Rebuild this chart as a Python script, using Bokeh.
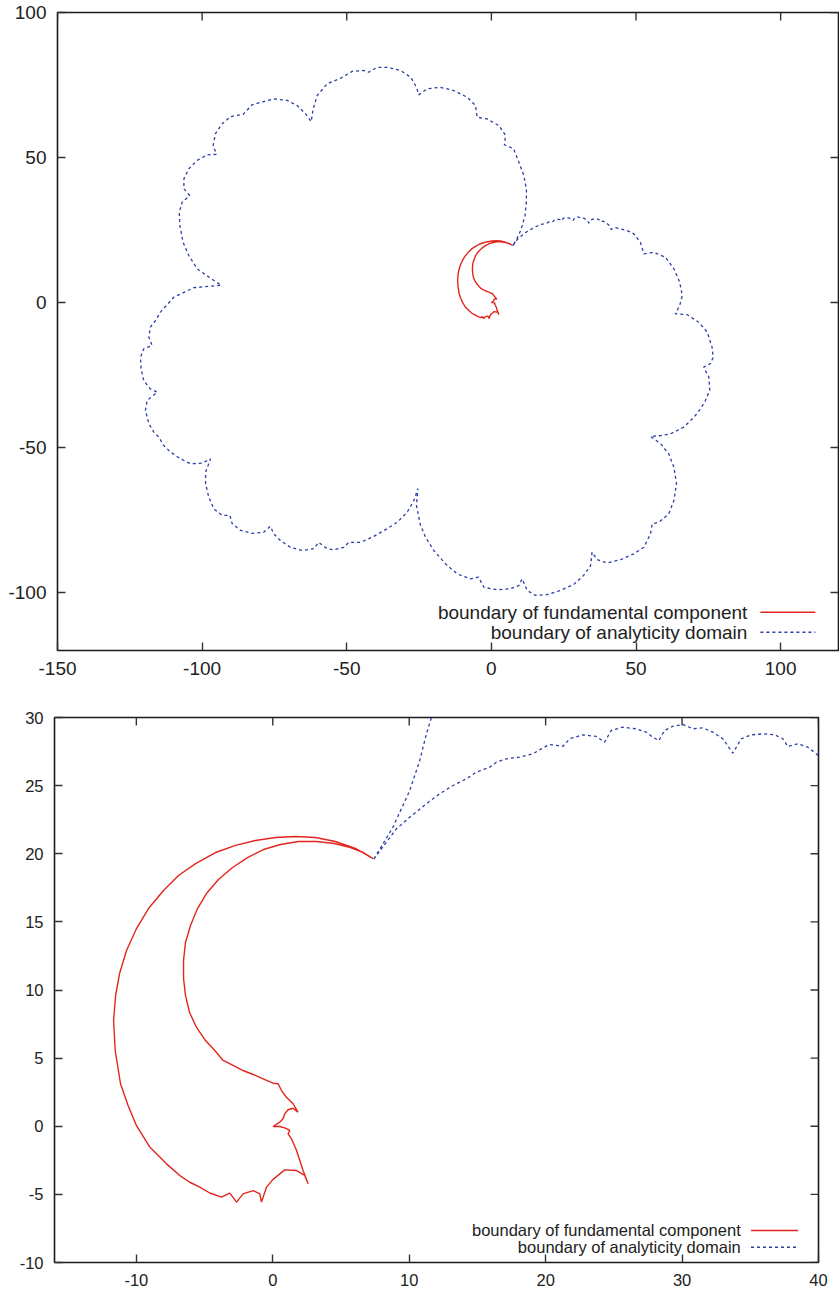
from bokeh.plotting import figure
from bokeh.models import Range1d, FixedTicker, Label, Arrow
from bokeh.embed import file_html
from bokeh.resources import INLINE

# ---------------- data ----------------
# boundary of analyticity domain (closed curve, starts/ends at the cusp)
dom_x = [7.4, 9.06, 10.04, 11.26, 12.23, 13.21, 14.19, 14.92, 15.90, 16.39, 17.12, 18.10, 19.07, 19.68,
         20.29, 21.27, 21.76, 22.73, 23.71, 24.32, 24.81, 25.66, 26.64, 27.38, 27.86, 28.30, 28.72, 29.33,
         30.06, 30.79, 31.52, 32.26, 32.99, 33.72, 34.34, 35.07, 35.92, 36.78, 37.39, 37.75, 38.48, 39.22,
         39.83, 40.8, 41.4, 43.0, 44.6, 47.0, 49.2, 51.5, 52.7, 56.1, 60.2, 63.1, 65.1, 66.0, 65.1, 63.6,
         67.7, 71.7, 74.6, 76.3, 76.7, 75.7, 73.4, 75.2, 75.5, 74.0, 72.3, 70.0, 66.5, 61.9, 58.5, 55.0,
         58.5, 61.3, 63.1, 64.0, 63.1, 61.3, 57.9, 55.6, 55.0, 52.7, 49.2, 44.6, 40.0, 36.6, 34.8,
         34.3, 31.9, 28.5, 23.9, 19.3, 15.2, 12.4, 10.6, 9.5, 6.6, 2.0, -2.6, -4.4, -7.2, -11.8, -15.9,
         -19.9, -22.8, -24.6, -25.9, -25.4, -26.8, -29.1, -32.6, -36.0, -40.7, -45.3, -49.3, -51.0, -54.5,
         -56.8, -59.7, -61.4, -65.4, -69.5, -72.9, -75.2, -76.4, -78.7, -82.7, -86.7, -89.6, -90.4, -93.1,
         -96.0, -97.7, -98.8, -98.8, -97.1, -100.0, -104.0, -107.5, -110.9, -113.3, -115.0, -116.7, -118.4,
         -119.6, -119.0, -115.5, -117.9, -120.2, -121.1, -121.3, -120.2, -117.3, -118.4, -117.9, -116.1,
         -114.4, -109.8, -102.9, -97.1, -93.4, -97.1, -101.7, -104.6, -106.6, -107.7, -107.9, -106.9,
         -104.3, -106.3, -106.3, -104.6, -101.7, -98.3, -95.0, -96.2, -95.4, -93.1, -90.2, -85.8, -82.7,
         -78.7, -75.2, -70.6, -67.1, -64.3, -62.3, -61.6, -60.2, -56.8, -52.2, -48.1, -44.1, -42.4, -39.5,
         -36.0, -31.4, -27.9, -25.9, -25.1, -22.2, -17.6, -13.0, -8.4, -5.5, -4.9, -1.5, 2.6, 4.9, 4.5,
         7.7, 9.5, 11.2, 12.1, 12.1, 11.63, 11.26, 10.77, 10.04, 8.81, 7.4]
dom_y = [19.6, 21.83, 22.68, 23.67, 24.40, 25.01, 25.50, 25.99, 26.35, 26.72, 26.97, 27.09, 27.34, 27.70,
         28.02, 27.89, 28.44, 28.73, 28.61, 28.19, 29.05, 29.29, 29.17, 28.92, 28.55, 28.31, 29.05, 29.36,
         29.49, 29.17, 29.24, 28.92, 28.44, 27.38, 28.44, 28.73, 28.80, 28.73, 28.44, 27.87, 28.07, 27.82,
         27.34, 26.5, 25.2, 25.8, 25.4, 24.8, 23.7, 20.8, 16.8, 17.3, 15.6, 11.6, 7.0, 2.4, -1.0, -3.9,
         -4.2, -6.8, -10.2, -15.4, -18.9, -21.1, -22.3, -25.8, -30.3, -33.8, -36.7, -39.6, -43.0, -45.3,
         -45.9, -46.2, -48.7, -52.2, -56.8, -62.5, -68.3, -72.9, -75.8, -76.3, -79.8, -84.4, -86.7, -88.7,
         -89.8, -88.7, -86.1, -90.7, -94.1, -97.2, -99.3, -100.7, -101.0, -99.3, -95.3, -97.6, -98.7, -99.1,
         -98.2, -94.7, -95.3, -93.6, -90.1, -85.5, -80.9, -76.5, -70.0, -64.2, -68.3, -72.3, -75.8, -78.0,
         -80.7, -82.7, -82.7, -84.4, -85.3, -84.9, -82.7, -84.9, -85.5, -84.4, -82.1, -79.8, -77.2, -79.2,
         -79.6, -78.6, -76.3, -73.4, -73.4, -71.1, -67.1, -62.5, -58.5, -53.9, -55.4, -55.6, -53.9, -51.6,
         -49.3, -46.4, -44.7, -41.8, -37.2, -33.8, -30.9, -29.8, -26.9, -22.9, -18.9, -16.0, -14.8, -12.0,
         -8.5, -6.2, -3.3, 1.8, 5.1, 5.6, 5.9, 8.4, 11.6, 16.2, 20.8, 26.6, 31.1, 34.6, 36.9, 39.2, 42.7,
         46.1, 49.0, 50.9, 51.1, 54.1, 58.2, 61.6, 64.1, 64.9, 68.2, 69.3, 70.2, 69.7, 67.9, 65.1, 62.4,
         66.8, 71.4, 75.4, 77.3, 79.7, 80.0, 79.4, 81.1, 81.1, 80.0, 77.7, 74.2, 71.6, 73.7, 74.2, 73.1,
         70.8, 67.9, 63.9, 63.3, 61.0, 57.6, 54.4, 53.0, 48.4, 43.8, 39.2, 34.6, 30.0, 28.8, 26.84, 24.64,
         21.95, 19.6]

# boundary of fundamental component (closed curve: outer arc, cusps, inner arc)
fc_x = [7.35, 6.06, 4.59, 3.13, 1.66, 0.20, -1.27, -2.73, -4.20, -5.66, -6.91, -8.01, -9.11, -9.99,
        -10.72, -11.23, -11.52, -11.67, -11.55, -11.16, -10.6, -9.99, -9.0, -7.79, -6.81, -6.08, -5.35,
        -4.62, -3.76, -3.15, -2.66, -2.18, -1.44, -0.95, -0.83, -0.46, 0.02, 0.88, 1.74, 2.34, 2.59,
        2.22, 1.74, 1.37, 1.12, 1.25, 0.88, 0.51, 0.02, 0.51, 0.75, 0.88, 1.12, 1.49, 1.85, 1.49, 1.0,
        0.64, 0.39, 0.02, -0.71, -1.44, -2.18, -2.91, -3.64, -4.25, -4.93, -5.59, -6.10, -6.40, -6.54,
        -6.54, -6.40, -6.03, -5.52, -4.86, -3.98, -2.95, -1.85, -0.68, 0.56, 1.88, 3.20, 4.52, 5.69,
        6.64, 7.35]
fc_y = [19.65, 20.39, 20.90, 21.19, 21.27, 21.19, 20.97, 20.61, 20.09, 19.28, 18.40, 17.30, 15.98, 14.51,
        12.90, 11.21, 9.60, 7.76, 5.56, 3.12, 1.5, 0.04, -1.55, -2.76, -3.62, -4.11, -4.47,
        -4.9, -5.2, -4.91, -5.57, -4.96, -4.72, -4.96, -5.57, -4.47, -3.9, -3.2, -3.25, -3.61, -4.22,
        -3.25, -1.78, -0.92, -0.56, -0.31, -0.12, -0.02, -0.02, 0.30, 0.55, 0.91, 1.21, 1.32, 1.03, 1.65,
        2.13, 2.62, 3.12, 3.16, 3.48, 3.80, 4.09, 4.46, 4.83, 5.56, 6.29, 7.25, 8.35, 9.60, 10.84,
        12.17, 13.49, 14.73, 15.98, 17.08, 18.11, 18.99, 19.72, 20.31, 20.68, 20.90, 20.90, 20.75, 20.46,
        20.09, 19.65]

legend_labels = ["boundary of fundamental component", "boundary of analyticity domain"]

top_xticks = [-150, -100, -50, 0, 50, 100]
top_yticks = [-100, -50, 0, 50, 100]
bot_xticks = [-10, 0, 10, 20, 30, 40]
bot_yticks = [-10, -5, 0, 5, 10, 15, 20, 25, 30]

RED = "#e2261d"
BLUE = "#2a3ea6"
FONT = "Liberation Sans"
TXT = "#222222"
TICK = "#333333"
TICK_PX = 8


def make_panel(width, height, xr, yr, xticks, yticks, borders, fsize, leg):
    left, right, top, bottom = borders
    fw = width - left - right
    fh = height - top - bottom
    p = figure(width=width, height=height, x_range=Range1d(*xr), y_range=Range1d(*yr),
               output_backend="svg", toolbar_location=None,
               min_border_left=left, min_border_right=right,
               min_border_top=top, min_border_bottom=bottom)
    p.xgrid.visible = False
    p.ygrid.visible = False
    p.outline_line_color = "#1a1a1a"
    p.outline_line_width = 1.6
    p.outline_line_alpha = 1.0
    p.background_fill_color = "white"
    p.border_fill_color = "white"

    for ax, ticks in ((p.xaxis[0], xticks), (p.yaxis[0], yticks)):
        ax.ticker = FixedTicker(ticks=ticks)
        ax.major_label_overrides = {t: str(t) for t in ticks}
        ax.axis_line_color = None
        ax.major_tick_in = TICK_PX
        ax.major_tick_out = 0
        ax.major_tick_line_color = TICK
        ax.major_tick_line_width = 1.4
        ax.minor_tick_line_color = None
        ax.major_label_text_font = FONT
        ax.major_label_text_font_size = fsize
        ax.major_label_text_color = TXT
        ax.major_label_standoff = 11

    # mirrored inward ticks on the top and right edges (gnuplot border style)
    dx = TICK_PX * (xr[1] - xr[0]) / fw
    dy = TICK_PX * (yr[1] - yr[0]) / fh
    p.segment(x0=xticks, x1=xticks, y0=[yr[1]] * len(xticks), y1=[yr[1] - dy] * len(xticks),
              line_color=TICK, line_width=1.4)
    p.segment(x0=[xr[1]] * len(yticks), x1=[xr[1] - dx] * len(yticks), y0=yticks, y1=yticks,
              line_color=TICK, line_width=1.4)

    p.line(dom_x, dom_y, line_color=BLUE, line_width=1.3, line_dash="3 3")
    p.line(fc_x, fc_y, line_color=RED, line_width=1.4)

    # gnuplot-style key: text right-aligned, sample to its right
    tx, sx0, sx1, ys = leg
    styles = [dict(line_color=RED, line_width=1.6, line_dash="solid"),
              dict(line_color=BLUE, line_width=1.3, line_dash="3 3")]
    for lab, yy, st in zip(legend_labels, ys, styles):
        p.add_layout(Label(x=tx, y=yy, text=lab, text_align="right", text_baseline="middle",
                           text_font=FONT, text_font_size=fsize, text_color=TXT))
        p.add_layout(Arrow(x_start=sx0, y_start=yy, x_end=sx1, y_end=yy, start=None, end=None, **st))
    return p


p1 = make_panel(839, 700, (-150, 120), (-120, 100), top_xticks, top_yticks,
                (57, 1, 12, 50), "19px", (88.5, 93.0, 112.0, [-106.8, -113.7]))
p2 = make_panel(839, 592, (-16, 40), (-10, 30), bot_xticks, bot_yticks,
                (54, 21, 17, 30), "16.5px", (34.3, 35.05, 38.5, [-7.65, -8.88]))

# two independent roots so the frames are not aligned to each other
open("out.html", "w").write(file_html([p1, p2], INLINE))
